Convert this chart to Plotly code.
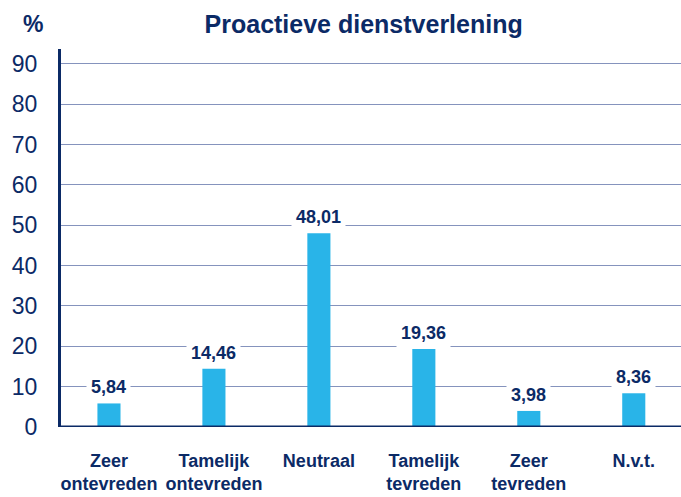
import plotly.graph_objects as go

categories = ["Zeer<br>ontevreden", "Tamelijk<br>ontevreden", "Neutraal",
              "Tamelijk<br>tevreden", "Zeer<br>tevreden", "N.v.t."]
values = [5.84, 14.46, 48.01, 19.36, 3.98, 8.36]
value_labels = ["5,84", "14,46", "48,01", "19,36", "3,98", "8,36"]
y_ticks = [0, 10, 20, 30, 40, 50, 60, 70, 80, 90]

NAVY = "#0b2a66"
BLUE = "#29b4e8"
GRID = "#8593bd"
FONT = "Liberation Sans, Arial, sans-serif"

x = list(range(len(categories)))

fig = go.Figure()
fig.add_trace(go.Bar(x=x, y=values, width=0.22, marker=dict(color=BLUE, line=dict(width=0)),
                     hoverinfo="skip"))

for xi, v, lab in zip(x, values, value_labels):
    fig.add_annotation(x=xi, y=v, text="<b>%s</b>" % lab, showarrow=False,
                       yanchor="middle", yshift=16, bgcolor="white", borderpad=4,
                       font=dict(family=FONT, size=18, color=NAVY))

fig.add_annotation(x=-0.045, y=1.066, xref="paper", yref="paper", text="<b>%</b>",
                   xanchor="center", yanchor="middle",
                   showarrow=False, font=dict(family=FONT, size=23, color=NAVY))

fig.update_layout(
    width=681, height=497,
    margin=dict(l=61, r=0, t=49, b=70, autoexpand=False),
    paper_bgcolor="white", plot_bgcolor="white",
    showlegend=False,
    title=dict(text="<b>Proactieve dienstverlening</b>", x=0.534, xanchor="center",
               y=0.952, yanchor="middle",
               font=dict(family=FONT, size=25, color=NAVY)),
    xaxis=dict(tickmode="array", tickvals=x, ticktext=["<b>%s</b>" % c for c in categories],
               range=[-0.457, 5.45], showgrid=False, ticks="", zeroline=False,
               showline=False, ticklabelstandoff=21, automargin=False,
               tickfont=dict(family=FONT, size=18, color=NAVY)),
    yaxis=dict(range=[0, 93.7], tickmode="array", tickvals=y_ticks,
               showgrid=True, gridcolor=GRID, gridwidth=1, zeroline=False,
               showline=True, linecolor=NAVY, linewidth=3, ticks="",
               ticklabelstandoff=16, automargin=False,
               tickfont=dict(family=FONT, size=23, color=NAVY)),
)

fig.add_shape(type="line", xref="paper", yref="y", x0=0, x1=1, y0=0, y1=0,
              line=dict(color=NAVY, width=3), layer="above")

fig.write_html("out.html", config={"displayModeBar": False},
               post_script="document.body.style.margin='0';document.body.style.padding='0';")
